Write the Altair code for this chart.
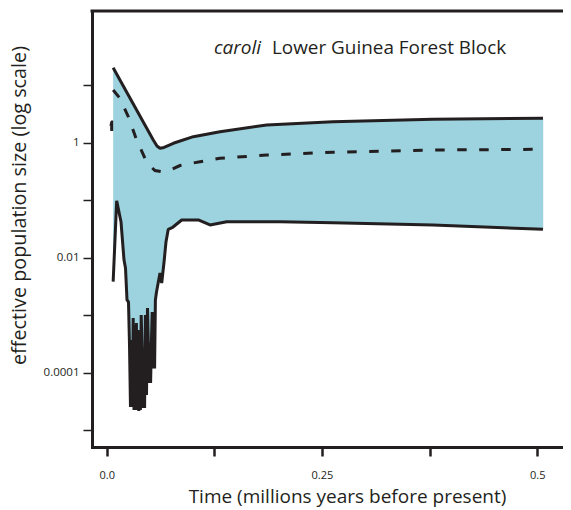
import altair as alt
import pandas as pd

# ---------------- data ----------------
# time in millions of years before present, Ne on log scale
upper_t = [0.0075, 0.0541, 0.0584, 0.0619, 0.0666, 0.0774, 0.1006, 0.1316, 0.1858, 0.2628, 0.3790, 0.5067]
upper_ne = [20.1, 1.114, 0.876, 0.800, 0.825, 0.976, 1.271, 1.553, 2.03, 2.32, 2.55, 2.657]

median_t = [0.0075, 0.0154, 0.0251, 0.0348, 0.0445, 0.0503, 0.0561, 0.0639, 0.0735, 0.0851,
            0.1084, 0.1316, 0.1858, 0.2628, 0.3790, 0.5067]
median_ne = [8.25, 5.92, 2.83, 1.114, 0.535, 0.394, 0.328, 0.313, 0.335, 0.401,
             0.467, 0.535, 0.611, 0.681, 0.746, 0.768]

lower_t = [0.0075, 0.0116, 0.0166, 0.0201, 0.02184, 0.02358, 0.02532, 0.02648, 0.02764, 0.02880,
           0.02997, 0.03078, 0.03171, 0.03264, 0.03357, 0.03449, 0.03542, 0.03635, 0.03728, 0.03821,
           0.03914, 0.04007, 0.04123, 0.04216, 0.04309, 0.04402, 0.04495, 0.04623, 0.04739, 0.04832,
           0.04913, 0.05006, 0.05099, 0.05192, 0.05285, 0.05378, 0.05470, 0.05563, 0.05656, 0.05784,
           0.06190, 0.0639, 0.0666, 0.0689, 0.0715, 0.0767, 0.0871, 0.1064, 0.1200, 0.1394,
           0.2013, 0.2628, 0.3790, 0.5067]
lower_ne = [0.00383, 0.0980, 0.0423, 0.00912, 0.00662, 0.00184, 0.00170, 0.000303, 2.53e-5, 0.000371,
            2.53e-5, 0.000894, 2.25e-5, 0.000675, 2.25e-5, 0.000731, 2.25e-5, 0.000553, 2.16e-5, 0.000510,
            2.25e-5, 0.00101, 0.000220, 2.43e-5, 0.000248, 2.43e-5, 0.00101, 4.09e-5, 0.00133, 0.000329,
            6.62e-5, 0.000329, 6.62e-5, 0.000329, 0.00114, 0.000118, 0.00114, 0.000118, 0.00184, 0.00253,
            0.00542, 0.00363, 0.00841, 0.0190, 0.0312, 0.0338, 0.0453, 0.0453, 0.0371, 0.0423,
            0.0423, 0.0406, 0.0371, 0.0312]

stub_t = [0.0058, 0.0050, 0.0058]
stub_ne = [2.29, 1.95, 1.60]

x_ticks = [0.0, 0.125, 0.25, 0.375, 0.5]
y_ticks = [1e-5, 1e-4, 1e-3, 1e-2, 1e-1, 1, 10]

title_italic = ["caroli"]
title_plain = ["Lower Guinea Forest Block"]
x_title = "Time (millions years before present)"
y_title = "effective population size (log scale)"

# ---------------- styling ----------------
W, H = 471, 436
FONT = "Open Sans"
INK = "#231f20"
FILL = "#9dd2df"

df_up = pd.DataFrame({"t": upper_t, "ne": upper_ne})
df_med = pd.DataFrame({"t": median_t, "ne": median_ne})
df_low = pd.DataFrame({"t": lower_t, "ne": lower_ne})
df_stub = pd.DataFrame({"t": stub_t, "ne": stub_ne})
# closed outline of the confidence band: upper bound forward, lower bound back
df_band = pd.DataFrame({
    "t": upper_t + lower_t[::-1],
    "ne": upper_ne + lower_ne[::-1],
    "i": list(range(len(upper_t) + len(lower_t))),
})

x_enc = alt.X(
    "t:Q",
    scale=alt.Scale(domain=[-0.01707, 0.52997], nice=False, zero=False),
    axis=alt.Axis(
        values=x_ticks,
        labelExpr="datum.value == 0 ? '0.0' : datum.value == 0.25 ? '0.25' : datum.value == 0.5 ? '0.5' : ''",
        grid=False, domainColor=INK, domainWidth=3, domainCap="square",
        tickColor=INK, tickWidth=2.5, tickSize=9,
        labelFont=FONT, labelFontSize=11, labelColor=INK, labelPadding=13,
        titleFont=FONT, titleFontSize=19, titleFontWeight="normal", titleColor=INK,
        titleX=255, titleY=55, titleBaseline="alphabetic", titleAlign="center",
        zindex=2,
    ),
    title=x_title,
)
y_enc = alt.Y(
    "ne:Q",
    scale=alt.Scale(type="log", domain=[5.105e-6, 195.0], nice=False),
    axis=alt.Axis(
        values=y_ticks,
        labelExpr="datum.value == 1 ? '1' : datum.value == 0.01 ? '0.01' : datum.value == 0.0001 ? '0.0001' : ''",
        grid=False, domainColor=INK, domainWidth=3, domainCap="square",
        tickColor=INK, tickWidth=1.5, tickSize=9,
        labelFont=FONT, labelFontSize=11.5, labelColor=INK, labelPadding=4,
        titleFont=FONT, titleFontSize=19.8, titleFontWeight="normal", titleColor=INK,
        titleX=-66.5, titleY=194, titleBaseline="alphabetic", titleAlign="center", titleAngle=-90,
        zindex=2,
    ),
    title=y_title,
)

band = alt.Chart(df_band).mark_line(fill=FILL, stroke=FILL, strokeWidth=0.5).encode(
    x=x_enc, y=y_enc, order="i:Q")

line_style = dict(color=INK, strokeWidth=3, strokeJoin="bevel")
upper_line = alt.Chart(df_up).mark_line(**line_style).encode(x=x_enc, y=y_enc)
lower_line = alt.Chart(df_low).mark_line(**line_style).encode(x=x_enc, y=y_enc)
median_line = alt.Chart(df_med).mark_line(color=INK, strokeWidth=3, strokeDash=[9.5, 12.5]).encode(x=x_enc, y=y_enc)
stub_line = alt.Chart(df_stub).mark_line(color=INK, strokeWidth=3, interpolate="monotone").encode(x=x_enc, y=y_enc)

top_rule = alt.Chart(pd.DataFrame({"k": [0]})).mark_rule(color=INK, strokeWidth=3).encode(
    x=alt.value(-1.5), x2=alt.value(W + 20), y=alt.value(0))

t_it = alt.Chart(pd.DataFrame({"txt": title_italic})).mark_text(
    font=FONT, fontSize=19, fontStyle="italic", color=INK, align="left", baseline="alphabetic"
).encode(x=alt.value(122), y=alt.value(43), text="txt:N")
t_pl = alt.Chart(pd.DataFrame({"txt": title_plain})).mark_text(
    font=FONT, fontSize=18.9, color=INK, align="left", baseline="alphabetic"
).encode(x=alt.value(180), y=alt.value(43), text="txt:N")

chart = alt.layer(
    band, upper_line, lower_line, median_line, stub_line, top_rule, t_it, t_pl
).properties(
    width=W, height=H,
    autosize=alt.AutoSizeParams(type="none"),
    padding={"left": 84, "top": 3, "right": 0, "bottom": 62},
).configure_view(strokeWidth=0)

chart.save("out.html", embed_options={"renderer": "svg", "actions": False})
